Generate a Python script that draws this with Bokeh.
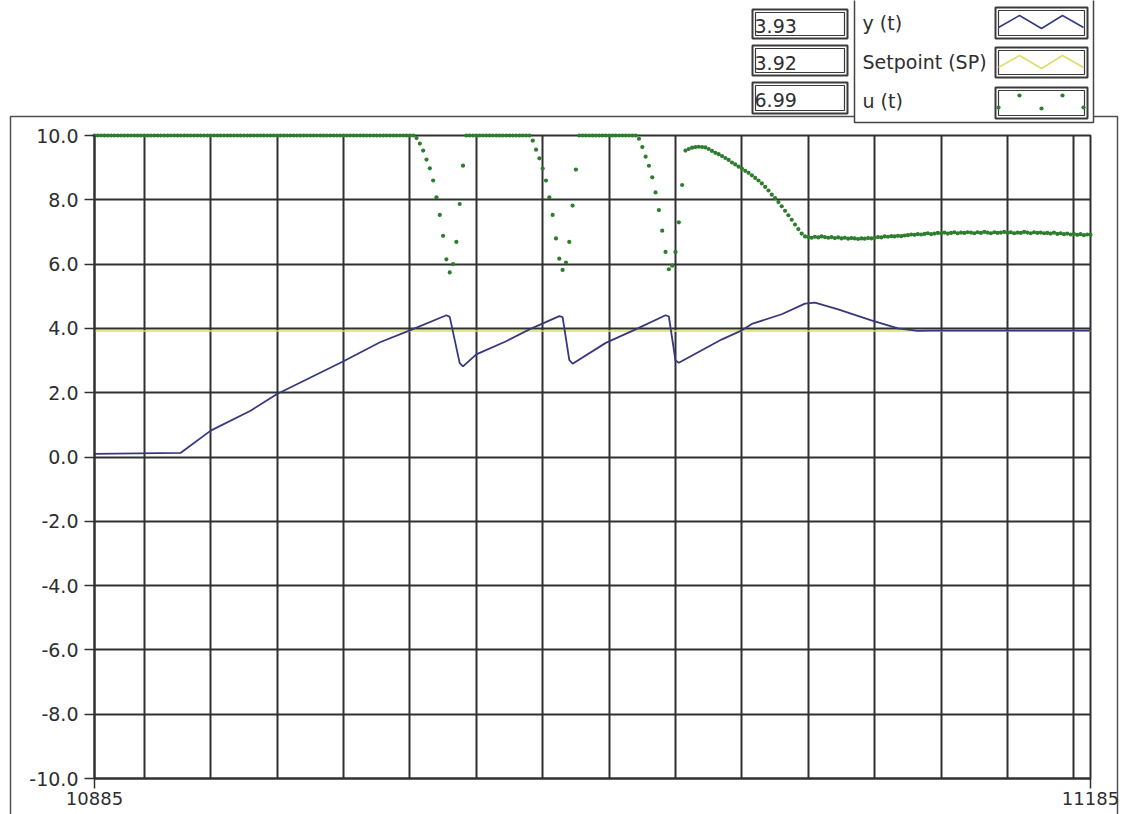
from bokeh.plotting import figure
from bokeh.models import Range1d, LinearAxis, FixedTicker, PrintfTickFormatter, Grid
from bokeh.core.properties import value
from bokeh.embed import file_html
from bokeh.resources import INLINE

# ------------------------------------------------------------------ data
t_start, t_end = 10885, 11185
y_min, y_max = -10.0, 10.0

# process value y(t): vertices of the polyline
y_time = [10885, 10911, 10920, 10932, 10940, 10960, 10971, 10980, 10991, 10992,
          10995, 10996, 11000, 11009, 11016, 11025, 11026, 11028, 11029, 11039,
          11048, 11057, 11058, 11060, 11061, 11074, 11080, 11083, 11092, 11099,
          11102, 11109, 11119, 11127, 11133, 11137, 11185]
y_values = [0.10, 0.13, 0.82, 1.44, 1.96, 2.98, 3.57, 3.94, 4.41, 4.36,
            2.92, 2.82, 3.19, 3.60, 3.97, 4.38, 4.35, 3.02, 2.90, 3.55,
            3.97, 4.41, 4.37, 3.00, 2.93, 3.66, 3.94, 4.14, 4.44, 4.77,
            4.80, 4.59, 4.25, 4.00, 3.92, 3.93, 3.93]

# setpoint SP
sp_time = [10885, 11185]
sp_values = [3.92, 3.92]

# controller output u(t): one sample per time unit, 10885 ... 11185
u_values = [
    # 10885 - 10981
    10.0, 10.0, 10.0, 10.0, 10.0, 10.0, 10.0, 10.0, 10.0, 10.0,
    10.0, 10.0, 10.0, 10.0, 10.0, 10.0, 10.0, 10.0, 10.0, 10.0,
    10.0, 10.0, 10.0, 10.0, 10.0, 10.0, 10.0, 10.0, 10.0, 10.0,
    10.0, 10.0, 10.0, 10.0, 10.0, 10.0, 10.0, 10.0, 10.0, 10.0,
    10.0, 10.0, 10.0, 10.0, 10.0, 10.0, 10.0, 10.0, 10.0, 10.0,
    10.0, 10.0, 10.0, 10.0, 10.0, 10.0, 10.0, 10.0, 10.0, 10.0,
    10.0, 10.0, 10.0, 10.0, 10.0, 10.0, 10.0, 10.0, 10.0, 10.0,
    10.0, 10.0, 10.0, 10.0, 10.0, 10.0, 10.0, 10.0, 10.0, 10.0,
    10.0, 10.0, 10.0, 10.0, 10.0, 10.0, 10.0, 10.0, 10.0, 10.0,
    10.0, 10.0, 10.0, 10.0, 10.0, 10.0, 10.0,
    # 10982 - 10996
    9.92, 9.75, 9.53, 9.25, 8.98, 8.60, 8.08, 7.53, 6.88, 6.15,
    5.74, 6.00, 6.69, 7.87, 9.06,
    # 10997 - 11016
    10.0, 10.0, 10.0, 10.0, 10.0, 10.0, 10.0, 10.0, 10.0, 10.0,
    10.0, 10.0, 10.0, 10.0, 10.0, 10.0, 10.0, 10.0, 10.0, 10.0,
    # 11017 - 11030
    9.84, 9.56, 9.29, 8.97, 8.60, 8.08, 7.53, 6.80, 6.17, 5.82,
    6.05, 6.69, 7.82, 8.94,
    # 11031 - 11048
    10.0, 10.0, 10.0, 10.0, 10.0, 10.0, 10.0, 10.0, 10.0, 10.0,
    10.0, 10.0, 10.0, 10.0, 10.0, 10.0, 10.0, 10.0,
    # 11049 - 11062
    9.90, 9.64, 9.34, 9.06, 8.70, 8.23, 7.68, 7.04, 6.38, 5.84,
    5.95, 6.38, 7.30, 8.46,
    # 11063 - 11099
    9.53, 9.58, 9.62, 9.64, 9.65, 9.64, 9.63, 9.58, 9.52, 9.46,
    9.42, 9.36, 9.30, 9.24, 9.16, 9.10, 9.03, 8.97, 8.90, 8.84,
    8.76, 8.68, 8.60, 8.51, 8.40, 8.29, 8.16, 8.05, 7.93, 7.80,
    7.66, 7.52, 7.38, 7.23, 7.09, 6.95, 6.86,
    # 11100 - 11185
    6.84, 6.82, 6.85, 6.83, 6.86, 6.84, 6.82, 6.84, 6.81, 6.83,
    6.80, 6.82, 6.79, 6.81, 6.80, 6.78, 6.80, 6.79, 6.81, 6.80,
    6.82, 6.84, 6.83, 6.86, 6.85, 6.87, 6.86, 6.88, 6.87, 6.89,
    6.90, 6.92, 6.91, 6.93, 6.92, 6.94, 6.96, 6.93, 6.95, 6.97,
    6.96, 6.98, 6.95, 6.97, 6.99, 6.96, 6.98, 6.97, 6.99, 6.98,
    6.96, 6.99, 6.97, 7.00, 6.98, 6.96, 6.99, 6.97, 6.98, 7.00,
    6.97, 6.99, 6.96, 6.98, 6.97, 7.00, 6.98, 6.96, 6.99, 6.97,
    6.98, 6.96, 6.97, 6.95, 6.98, 6.94, 6.96, 6.93, 6.95, 6.92,
    6.94, 6.91, 6.93, 6.90, 6.92, 6.91,
]
u_time = list(range(t_start, t_start + len(u_values)))

y_ticks = [-10.0, -8.0, -6.0, -4.0, -2.0, 0.0, 2.0, 4.0, 6.0, 8.0, 10.0]
x_ticks = [10885, 11185]
x_grid_ticks = [10900, 10920, 10940, 10960, 10980, 11000, 11020, 11040,
                11060, 11080, 11100, 11120, 11140, 11160, 11180]
y_grid_ticks = [-8.0, -6.0, -4.0, -2.0, 0.0, 2.0, 4.0, 6.0, 8.0]

legend_names = ["y (t)", "Setpoint (SP)", "u (t)"]
readouts = ["3.93", "3.92", "6.99"]

# ------------------------------------------------------------------ layout
W, H = 1125, 814
PAGE = 0                          # observed offset of the canvas on the page
PX_T0, PX_T1 = 94, 1090           # page x of t_start / t_end
PX_YTOP, PX_YBOT = 135, 778       # page y of y_max / y_min

def dx(px):
    return t_start + (px - PX_T0) * (t_end - t_start) / (PX_T1 - PX_T0)

def dy(py):
    return y_max - (py - PX_YTOP) * (y_max - y_min) / (PX_YBOT - PX_YTOP)

INK = "#303030"
TXT = "#2e2e2e"
FONT = "DejaVu Sans"
C_Y = "#38387f"
C_SP = "#dcdc6e"
C_U = "#2e7d2e"

p = figure(width=W, height=H,
           x_range=Range1d(dx(PAGE), dx(PAGE + W)),
           y_range=Range1d(dy(PAGE + H), dy(PAGE)),
           x_axis_type=None, y_axis_type=None,
           output_backend="svg", toolbar_location=None,
           min_border=0, outline_line_color=None,
           background_fill_color="white", border_fill_color="white")

# axes placed at the plot edges
yax = LinearAxis(fixed_location=t_start, bounds=(y_min, y_max),
                 ticker=FixedTicker(ticks=y_ticks, minor_ticks=[]),
                 formatter=PrintfTickFormatter(format="%.1f"))
yax.axis_line_color = INK
yax.axis_line_width = 2
yax.major_tick_out = 10
yax.major_tick_in = 0
yax.major_tick_line_color = INK
yax.major_tick_line_width = 1.5
yax.minor_tick_line_color = None
yax.major_label_standoff = 6
yax.major_label_text_font = FONT
yax.major_label_text_font_size = "19px"
yax.major_label_text_color = TXT
p.add_layout(yax, "left")

xax = LinearAxis(fixed_location=y_min, bounds=(t_start, t_end),
                 ticker=FixedTicker(ticks=x_ticks, minor_ticks=[]),
                 formatter=PrintfTickFormatter(format="%d"))
xax.axis_line_color = INK
xax.axis_line_width = 2
xax.major_tick_out = 10
xax.major_tick_in = 0
xax.major_tick_line_color = INK
xax.major_tick_line_width = 1.5
xax.minor_tick_line_color = None
xax.major_label_standoff = 3
xax.major_label_text_font = FONT
xax.major_label_text_font_size = "18px"
xax.major_label_text_color = TXT
p.add_layout(xax, "below")

# grid
try:
    xg = Grid(dimension=0, ticker=FixedTicker(ticks=x_grid_ticks),
              bounds=(t_start, t_end), cross_bounds=(y_min, y_max),
              grid_line_color=INK, grid_line_width=2)
    yg = Grid(dimension=1, ticker=FixedTicker(ticks=y_grid_ticks),
              bounds=(y_min, y_max), cross_bounds=(t_start, t_end),
              grid_line_color=INK, grid_line_width=2)
    p.add_layout(xg)
    p.add_layout(yg)
except Exception:
    p.segment(x0=x_grid_ticks, x1=x_grid_ticks,
              y0=[y_min] * len(x_grid_ticks), y1=[y_max] * len(x_grid_ticks),
              line_color=INK, line_width=2)
    p.segment(x0=[t_start] * len(y_grid_ticks), x1=[t_end] * len(y_grid_ticks),
              y0=y_grid_ticks, y1=y_grid_ticks, line_color=INK, line_width=2)

# plot border
p.quad(left=[t_start], right=[t_end], bottom=[y_min], top=[y_max],
       fill_color=None, line_color=INK, line_width=2)

# series
p.line(sp_time, sp_values, line_color=C_SP, line_width=1.5)
p.line(y_time, y_values, line_color=C_Y, line_width=1.8)
p.scatter(u_time, u_values, size=4.2, fill_color=C_U, line_color=None)

# outer chart panel
p.line([dx(10), dx(10), dx(1117), dx(1117)], [dy(830), dy(116), dy(116), dy(830)],
       line_color="#505050", line_width=1.5)

# legend panel
p.quad(left=[dx(854)], right=[dx(1093)], top=[dy(-5)], bottom=[dy(122)],
       fill_color="white", line_color="#444444", line_width=1.5)

def double_box(l, r, t, b):
    p.quad(left=[dx(l)], right=[dx(r)], top=[dy(t)], bottom=[dy(b)],
           fill_color="white", line_color="#3a3a3a", line_width=2)
    p.quad(left=[dx(l + 3)], right=[dx(r - 3)], top=[dy(t + 3)], bottom=[dy(b - 3)],
           fill_color=None, line_color="#3a3a3a", line_width=1.2)

readout_rows = [(9, 38), (45, 75), (82, 113)]
for (t, b), txt in zip(readout_rows, readouts):
    double_box(752, 847, t, b)
    p.text(x=[dx(754)], y=[dy((t + b) / 2 + 2)], text=[txt],
           text_font=value(FONT), text_font_size="19px", text_color=TXT,
           text_align="left", text_baseline="middle")

sample_rows = [(7, 38), (47, 77), (87, 118)]
label_y = [22, 61, 100]
zig_x = [998, 1019, 1041, 1062, 1083]
zig_dy = [20, 8, 21, 8, 20]
for i, ((t, b), name) in enumerate(zip(sample_rows, legend_names)):
    p.text(x=[dx(862)], y=[dy(label_y[i])], text=[name],
           text_font=value(FONT), text_font_size="19px", text_color=TXT,
           text_align="left", text_baseline="middle")
    double_box(995, 1087, t, b)
    zx = [dx(v) for v in zig_x]
    zy = [dy(t + d) for d in zig_dy]
    if i == 0:
        p.line(zx, zy, line_color=C_Y, line_width=1.5)
    elif i == 1:
        p.line(zx, zy, line_color=C_SP, line_width=1.5)
    else:
        p.scatter(zx, zy, size=4.2, fill_color=C_U, line_color=None)

open("out.html", "w").write(file_html(p, INLINE))
